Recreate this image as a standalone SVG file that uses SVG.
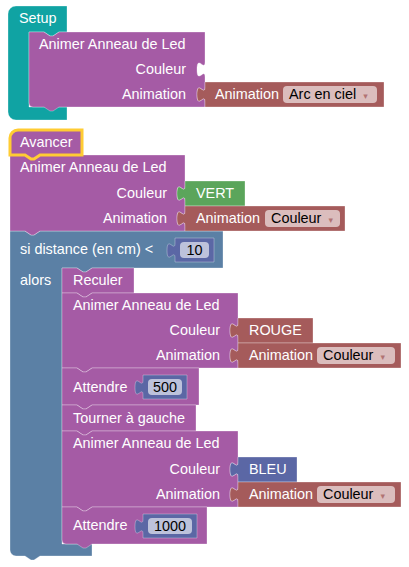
<svg xmlns="http://www.w3.org/2000/svg" width="409" height="567" viewBox="0 0 409 567">
<style>
text { font-family: "Liberation Sans", Arial, sans-serif; font-size: 14.4px; fill: #fff; }
.f { fill: #000; }
.r { text-anchor: end; }
.m { text-anchor: middle; }
.arr { fill: #a55b5b; fill-opacity: .75; font-family: "DejaVu Sans", sans-serif; font-size: 9px; }
path { stroke: #fff; stroke-opacity: .3; stroke-width: 1; }
.teal { fill: #10a3a3; }
.purple { fill: #a55ba5; }
.red { fill: #a55b5b; }
.green { fill: #5ba55b; }
.blue { fill: #5b80a5; }
.num { fill: #5b67a5; }
.field { fill: #fff; fill-opacity: .6; }
path.sel { stroke: #fc3; stroke-opacity: 1; stroke-width: 3; }
</style>
<rect width="409" height="567" fill="#fff"/>
<g id="connectors"/>

<!-- Setup -->
<g id="setup">
<path class="teal" d="M8,14 A8,8 0 0 1 16,6 H67 V32 H59 l-6,4 h-3 l-6,-4 H29 V107 H67 V120 H16 A8,8 0 0 1 8,112 Z"/>
<text x="19" y="23">Setup</text>
</g>
<g id="animer1">
<path class="purple" d="M29,32 H44 l6,4 h3 l6,-4 H205 V62 c0,10 -8,-8 -8,7.5 s8,-2.5 8,7.5 V87 c0,10 -8,-8 -8,7.5 s8,-2.5 8,7.5 V107 H59 l-6,4 h-3 l-6,-4 H33 a4,4 0 0 1 -4,-4 Z"/>
<text x="39" y="49">Animer Anneau de Led</text>
<text class="r" x="186" y="74">Couleur</text>
<text class="r" x="186" y="99">Animation</text>
</g>
<g id="anim1">
<path class="red" d="M205,82 H384 V107 H205 V102 c0,-10 -8,8 -8,-7.5 s8,2.5 8,-7.5 Z"/>
<text x="215" y="99">Animation</text>
<rect class="field" x="283" y="86" width="94" height="17" rx="4"/>
<text class="f" x="289" y="99">Arc en ciel<tspan class="arr" dx="7">▾</tspan></text>
</g>

<!-- Avancer stack -->
<g id="si">
<path class="blue" d="M10,231 H25 l6,4 h3 l6,-4 H223 V268 H92 l-6,4 h-3 l-6,-4 H62 V544 H92 V556 H40 l-6,4 h-3 l-6,-4 H16 a6,6 0 0 1 -6,-6 Z"/>
<text x="20" y="254">si distance (en cm) &lt;</text>
<text x="20" y="285">alors</text>
</g>
<g id="n10">
<path class="num" d="M175,238 H214 V262 H175 V258 c0,-10 -8,8 -8,-7.5 s8,2.5 8,-7.5 Z"/>
<rect class="field" x="180" y="242" width="29" height="16" rx="4"/>
<text class="f m" x="194.5" y="255">10</text>
</g>
<g id="animer2">
<path class="purple" d="M10,155 H25 l6,4 h3 l6,-4 H185 V186 c0,10 -8,-8 -8,7.5 s8,-2.5 8,7.5 V211 c0,10 -8,-8 -8,7.5 s8,-2.5 8,7.5 V231 H40 l-6,4 h-3 l-6,-4 H10 Z"/>
<text x="20" y="172">Animer Anneau de Led</text>
<text class="r" x="167" y="198">Couleur</text>
<text class="r" x="167" y="223">Animation</text>
</g>
<g id="vert">
<path class="green" d="M185,181 H245 V206 H185 V201 c0,-10 -8,8 -8,-7.5 s8,2.5 8,-7.5 Z"/>
<text x="196" y="198">VERT</text>
</g>
<g id="anim2">
<path class="red" d="M185,206 H345 V231 H185 V226 c0,-10 -8,8 -8,-7.5 s8,2.5 8,-7.5 Z"/>
<text x="196" y="223">Animation</text>
<rect class="field" x="265" y="210" width="75" height="17" rx="4"/>
<text class="f" x="271" y="223">Couleur<tspan class="arr" dx="7">▾</tspan></text>
</g>
<g id="avancer">
<path class="purple sel" d="M10,138 A8,8 0 0 1 18,130 H82 V155 H40 l-6,4 h-3 l-6,-4 H10 Z"/>
<text x="20" y="147">Avancer</text>
</g>

<g id="reculer">
<path class="purple" d="M62,268 H77 l6,4 h3 l6,-4 H134 V293 H92 l-6,4 h-3 l-6,-4 H62 Z"/>
<text x="73" y="285">Reculer</text>
</g>
<g id="animer3">
<path class="purple" d="M62,293 H77 l6,4 h3 l6,-4 H238 V323 c0,10 -8,-8 -8,7.5 s8,-2.5 8,7.5 V348 c0,10 -8,-8 -8,7.5 s8,-2.5 8,7.5 V368 H92 l-6,4 h-3 l-6,-4 H62 Z"/>
<text x="73" y="310">Animer Anneau de Led</text>
<text class="r" x="220" y="335">Couleur</text>
<text class="r" x="220" y="360">Animation</text>
</g>
<g id="rouge">
<path class="red" d="M238,318 H313 V343 H238 V338 c0,-10 -8,8 -8,-7.5 s8,2.5 8,-7.5 Z"/>
<text x="249" y="335">ROUGE</text>
</g>
<g id="anim3">
<path class="red" d="M238,343 H401 V368 H238 V363 c0,-10 -8,8 -8,-7.5 s8,2.5 8,-7.5 Z"/>
<text x="249" y="360">Animation</text>
<rect class="field" x="317" y="347" width="78" height="17" rx="4"/>
<text class="f" x="323" y="360">Couleur<tspan class="arr" dx="7">▾</tspan></text>
</g>
<g id="attendre500">
<path class="purple" d="M62,368 H77 l6,4 h3 l6,-4 H199 V405 H92 l-6,4 h-3 l-6,-4 H62 Z"/>
<text x="73" y="392">Attendre</text>
</g>
<g id="n500">
<path class="num" d="M143,375 H187 V399 H143 V395 c0,-10 -8,8 -8,-7.5 s8,2.5 8,-7.5 Z"/>
<rect class="field" x="148" y="379" width="34" height="16" rx="4"/>
<text class="f m" x="165" y="392">500</text>
</g>
<g id="tourner">
<path class="purple" d="M62,405 H77 l6,4 h3 l6,-4 H196 V431 H92 l-6,4 h-3 l-6,-4 H62 Z"/>
<text x="73" y="423">Tourner à gauche</text>
</g>
<g id="animer4">
<path class="purple" d="M62,431 H77 l6,4 h3 l6,-4 H238 V462 c0,10 -8,-8 -8,7.5 s8,-2.5 8,7.5 V487 c0,10 -8,-8 -8,7.5 s8,-2.5 8,7.5 V507 H92 l-6,4 h-3 l-6,-4 H62 Z"/>
<text x="73" y="448">Animer Anneau de Led</text>
<text class="r" x="220" y="474">Couleur</text>
<text class="r" x="220" y="499">Animation</text>
</g>
<g id="bleu">
<path class="num" d="M238,457 H297 V482 H238 V477 c0,-10 -8,8 -8,-7.5 s8,2.5 8,-7.5 Z"/>
<text x="249" y="474">BLEU</text>
</g>
<g id="anim4">
<path class="red" d="M238,482 H401 V507 H238 V502 c0,-10 -8,8 -8,-7.5 s8,2.5 8,-7.5 Z"/>
<text x="249" y="499">Animation</text>
<rect class="field" x="317" y="486" width="78" height="17" rx="4"/>
<text class="f" x="323" y="499">Couleur<tspan class="arr" dx="7">▾</tspan></text>
</g>
<g id="attendre1000">
<path class="purple" d="M62,507 H77 l6,4 h3 l6,-4 H207 V544 H92 l-6,4 h-3 l-6,-4 H66 a4,4 0 0 1 -4,-4 Z"/>
<text x="73" y="530">Attendre</text>
</g>
<g id="n1000">
<path class="num" d="M143,514 H197 V538 H143 V534 c0,-10 -8,8 -8,-7.5 s8,2.5 8,-7.5 Z"/>
<rect class="field" x="148" y="518" width="44" height="16" rx="4"/>
<text class="f m" x="170" y="531">1000</text>
</g>
</svg>
